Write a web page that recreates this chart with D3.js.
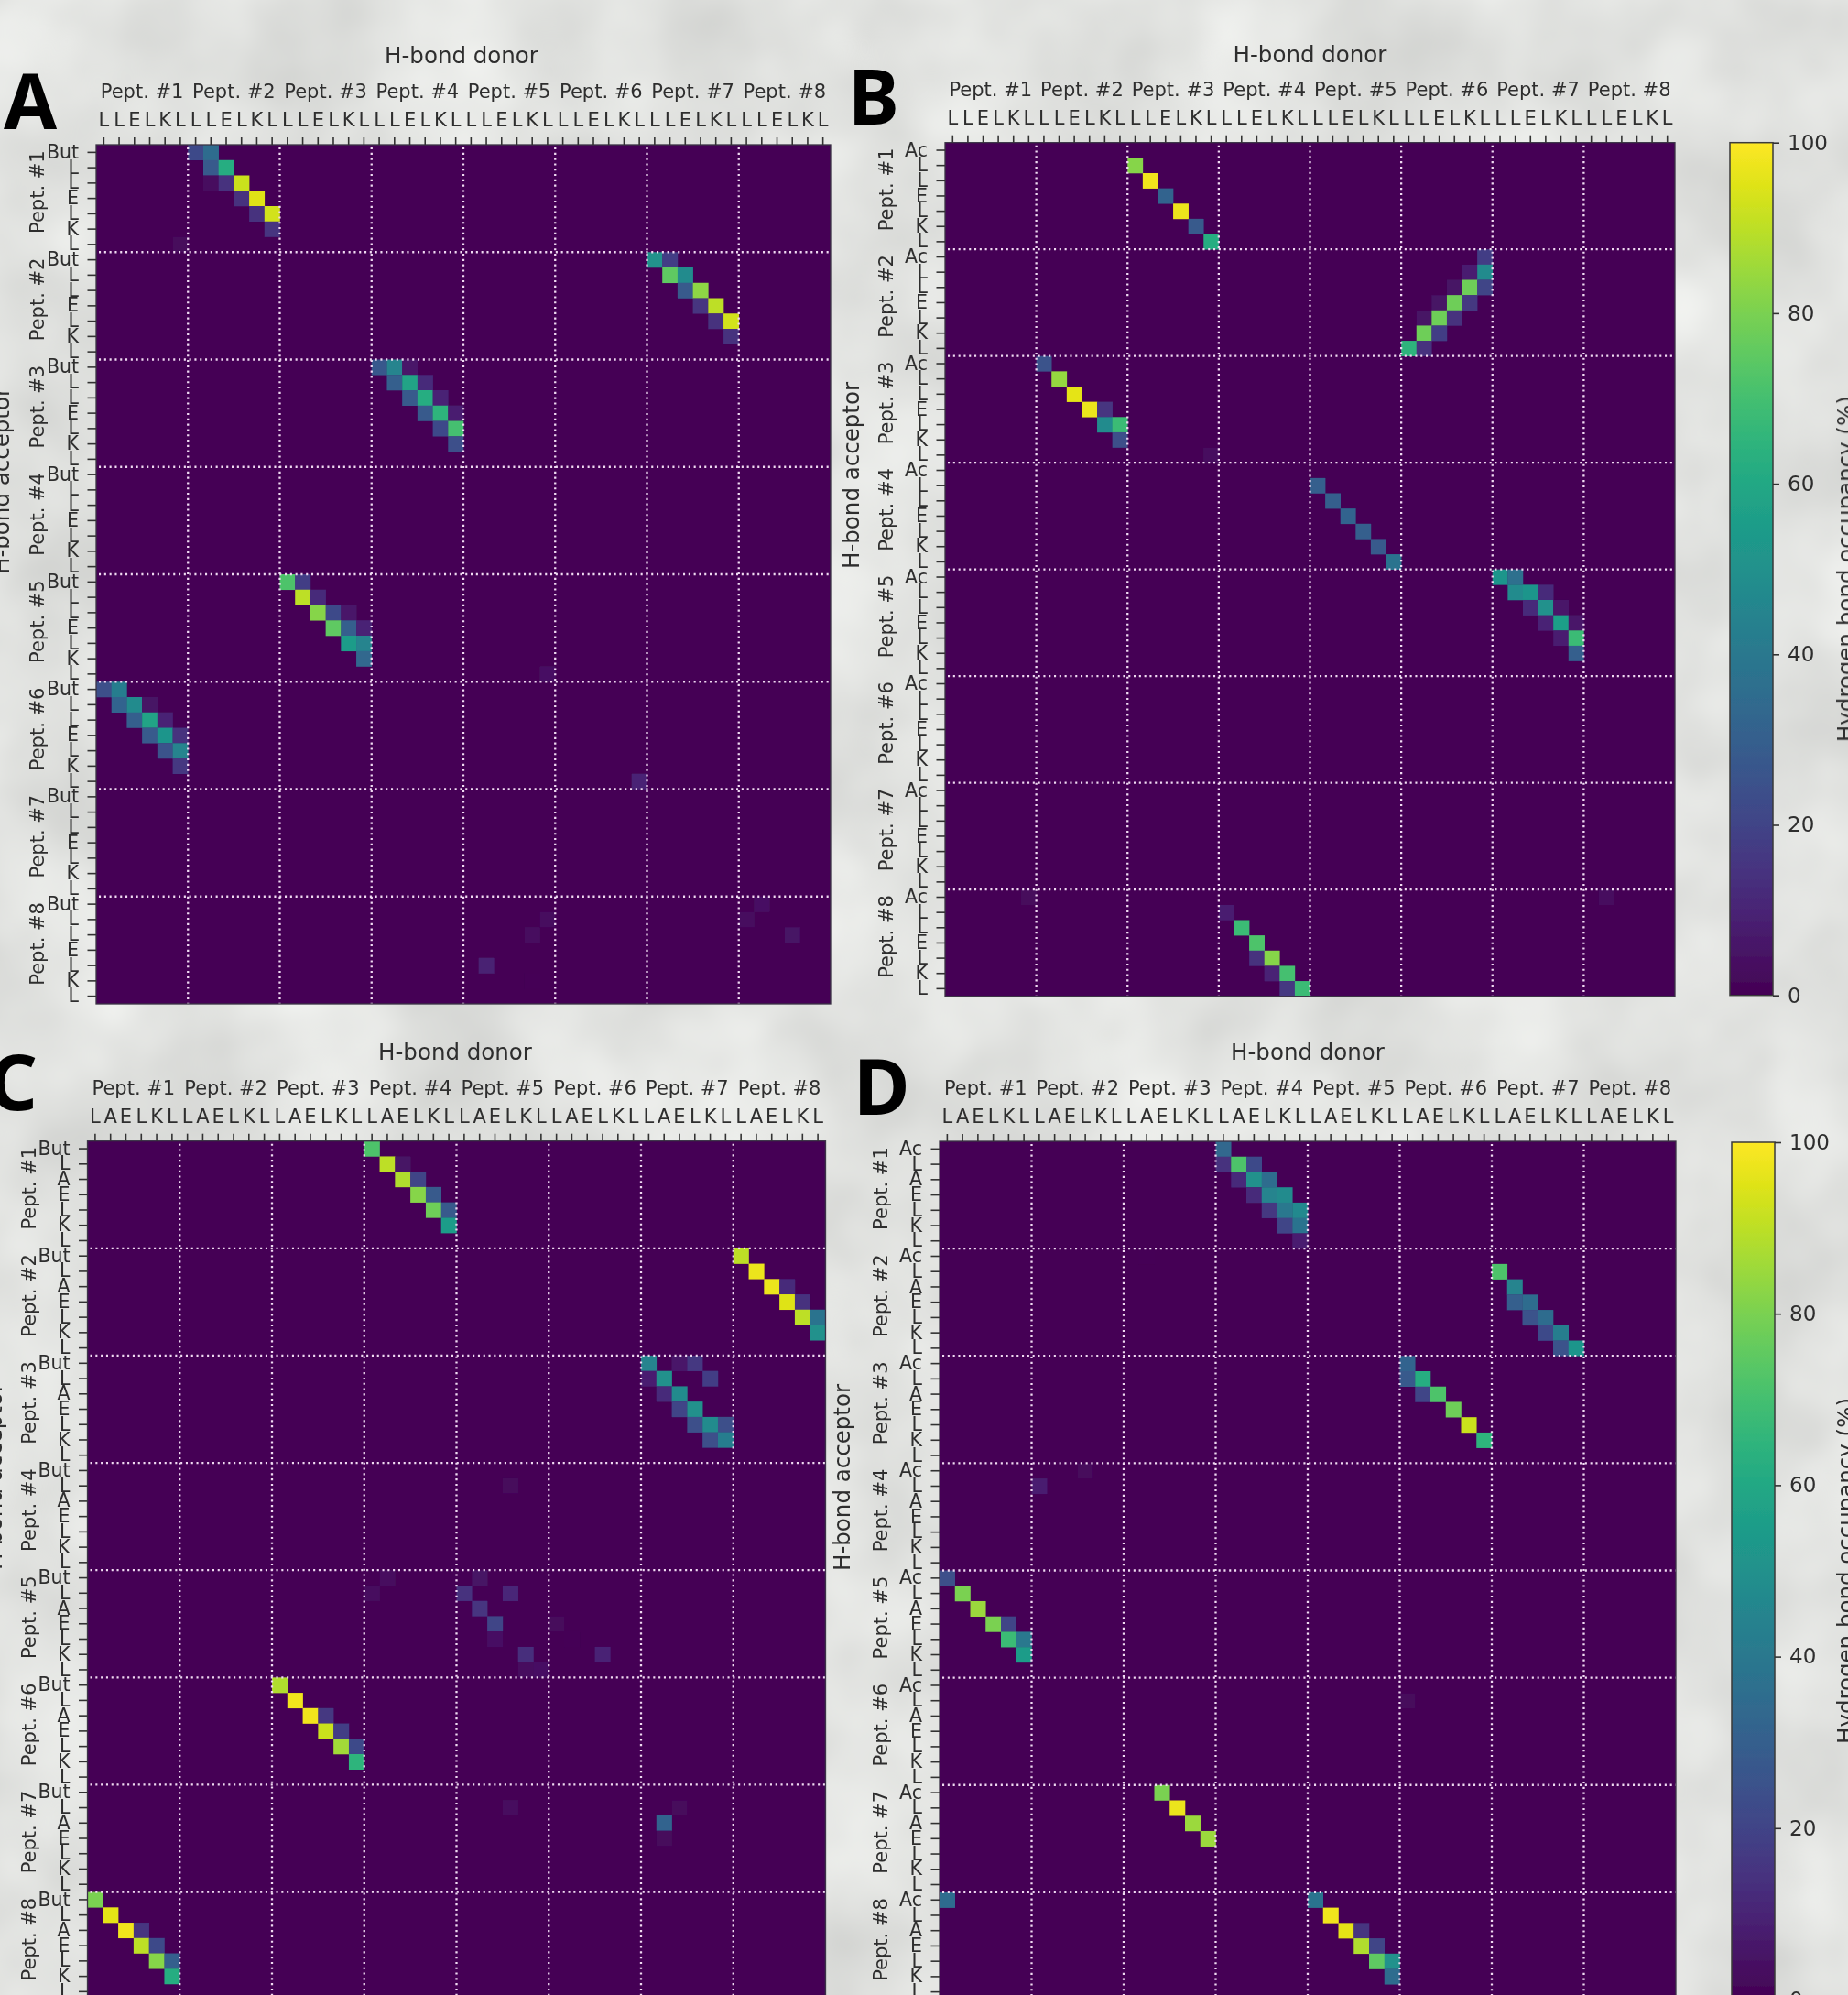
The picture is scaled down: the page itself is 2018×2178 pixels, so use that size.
<!DOCTYPE html>
<html>
<head>
<meta charset="utf-8">
<script src="https://cdn.jsdelivr.net/npm/d3@7"></script>
<style>
  html, body { margin: 0; padding: 0; background: #e4e5e3; overflow: hidden; }
  svg { display: block; }
  text { font-family: "DejaVu Sans", sans-serif; fill: #2e2e2e; }
</style>
</head>
<body>
<div id="chart"></div>
<script>
// Peptide labels and residue sequences on the two axes
const peptides = ["Pept. #1", "Pept. #2", "Pept. #3", "Pept. #4", "Pept. #5", "Pept. #6", "Pept. #7", "Pept. #8"];
const donorSeqLLE = ["L", "L", "E", "L", "K", "L"];
const donorSeqLAE = ["L", "A", "E", "L", "K", "L"];
const acceptorSeqA = ["But", "L", "L", "E", "L", "K", "L"];
const acceptorSeqB = ["Ac", "L", "L", "E", "L", "K", "L"];
const acceptorSeqC = ["But", "L", "A", "E", "L", "K", "L"];
const acceptorSeqD = ["Ac", "L", "A", "E", "L", "K", "L"];
const colorbarTicks = [0, 20, 40, 60, 80, 100];

// Non-zero cells: [acceptor row, donor column, occupancy %]
const cellsA = [
  [0,6,22],[0,7,35],[1,7,28],[1,8,62],[2,7,3],[2,8,14],[2,9,92],[3,9,14],[3,10,95],[4,10,14],[4,11,93],[5,11,15],[6,5,2],
  [7,36,50],[7,37,18],[8,37,75],[8,38,48],[9,38,28],[9,39,83],[10,39,15],[10,40,90],[11,40,14],[11,41,93],[12,41,14],
  [14,18,27],[14,19,45],[14,20,6],[15,19,30],[15,20,58],[15,21,12],[16,20,28],[16,21,62],[16,22,10],[17,21,28],[17,22,65],[17,23,8],[18,22,22],[18,23,70],[19,23,24],
  [28,12,72],[28,13,18],[29,13,90],[29,14,12],[30,14,82],[30,15,22],[30,16,6],[31,15,75],[31,16,30],[31,17,10],[32,16,55],[32,17,45],[33,17,33],[34,29,4],
  [35,0,24],[35,1,42],[36,1,32],[36,2,48],[36,3,5],[37,2,30],[37,3,58],[37,4,10],[38,3,28],[38,4,52],[38,5,14],[39,4,25],[39,5,45],[40,5,16],[41,35,10],
  [49,43,4],[50,29,3],[50,42,3],[51,28,3],[51,45,5],[53,25,9],[54,28,1]
];
const cellsB = [
  [1,12,82],[2,13,98],[3,14,32],[4,15,97],[5,16,28],[6,17,62],
  [7,35,18],[8,34,8],[8,35,48],[9,33,5],[9,34,78],[9,35,20],[10,32,5],[10,33,78],[10,34,16],[11,31,5],[11,32,78],[11,33,14],[12,31,78],[12,32,18],[13,30,65],[13,31,14],
  [14,6,25],[15,7,84],[16,8,96],[17,9,97],[17,10,15],[18,10,48],[18,11,68],[19,11,24],[20,17,3],
  [22,24,30],[23,25,30],[24,26,32],[25,27,30],[26,28,28],[27,29,38],
  [28,36,52],[28,37,36],[29,37,48],[29,38,52],[29,39,12],[30,38,12],[30,39,50],[30,40,6],[31,39,10],[31,40,56],[31,41,6],[32,40,8],[32,41,68],[33,41,30],
  [49,5,2],[49,43,3],[50,18,8],[51,19,68],[52,20,72],[53,20,14],[53,21,82],[54,21,10],[54,22,70],[55,22,16],[55,23,68]
];
const cellsC = [
  [0,18,72],[1,19,90],[1,20,5],[2,20,88],[2,21,20],[3,21,82],[3,22,28],[4,22,78],[4,23,28],[5,23,55],
  [7,42,90],[8,43,97],[9,44,97],[9,45,12],[10,45,95],[10,46,14],[11,46,90],[11,47,38],[12,47,50],
  [14,36,45],[14,38,6],[14,39,16],[15,36,8],[15,37,50],[15,40,18],[16,37,12],[16,38,48],[17,38,20],[17,39,50],[18,39,24],[18,40,48],[18,41,24],[19,40,24],[19,41,42],
  [22,27,2],[28,19,3],[28,25,5],[29,18,3],[29,24,14],[29,27,11],[30,25,15],[31,26,20],[31,30,2],[32,26,4],[32,31,1],[33,28,13],[33,33,10],[34,28,3],[34,29,4],
  [35,12,88],[36,13,98],[37,14,98],[37,15,16],[38,15,92],[38,16,18],[39,16,86],[39,17,22],[40,17,65],
  [43,27,3],[43,38,2],[44,37,32],[45,37,2],
  [49,0,80],[50,1,96],[51,2,98],[51,3,15],[52,3,90],[52,4,22],[53,4,82],[53,5,30],[54,5,62]
];
const cellsD = [
  [0,18,33],[1,18,14],[1,19,72],[1,20,22],[2,19,12],[2,20,50],[2,21,35],[3,20,12],[3,21,45],[3,22,48],[4,21,16],[4,22,40],[4,23,47],[5,22,20],[5,23,38],[6,23,8],
  [7,13,1],[8,36,72],[9,37,45],[10,37,30],[10,38,35],[11,38,25],[11,39,35],[12,39,22],[12,40,42],[13,40,25],[13,41,52],
  [14,30,32],[15,30,28],[15,31,62],[16,31,20],[16,32,72],[17,33,78],[18,34,92],[19,35,65],
  [21,9,2],[22,6,8],[28,0,24],[29,1,80],[30,2,85],[31,3,80],[31,4,20],[32,4,68],[32,5,40],[33,5,55],
  [36,30,2],[42,14,80],[43,15,97],[44,16,85],[45,17,85],
  [49,0,35],[49,24,38],[50,25,98],[51,26,96],[51,27,15],[52,27,88],[52,28,20],[53,28,75],[53,29,50],[54,29,35]
];

const viridis = d3.scaleSequential(d3.interpolateViridis).domain([0, 100]);

const svg = d3.select("#chart").append("svg")
  .attr("width", 2018).attr("height", 2178);

// Mottled grey paper behind the figure, plus the soft look of the scan
const defs = svg.append("defs");
const paper = defs.append("filter").attr("id", "paper")
  .attr("x", 0).attr("y", 0).attr("width", "100%").attr("height", "100%")
  .attr("color-interpolation-filters", "sRGB");
paper.append("feTurbulence").attr("type", "fractalNoise")
  .attr("baseFrequency", 0.007).attr("numOctaves", 3).attr("seed", 4);
paper.append("feColorMatrix").attr("type", "matrix")
  .attr("values", "0.16 0 0 0 0.805  0.16 0 0 0 0.81  0.16 0 0 0 0.8  0 0 0 0 1");
defs.append("filter").attr("id", "soft")
  .attr("x", 0).attr("y", 0).attr("width", "100%").attr("height", "100%")
  .attr("filterUnits", "userSpaceOnUse")
  .append("feGaussianBlur").attr("stdDeviation", 0.75);

svg.append("rect").attr("width", 2018).attr("height", 2178).attr("filter", "url(#paper)");
const root = svg.append("g").attr("filter", "url(#soft)");

function drawPanel(p) {
  const g = root.append("g").attr("transform", `translate(${p.left},${p.top})`);
  const rowsPerPept = p.acceptorSeq.length;
  const colsPerPept = p.donorSeq.length;
  const nRows = rowsPerPept * peptides.length;
  const nCols = colsPerPept * peptides.length;

  const x = d3.scaleBand().domain(d3.range(nCols)).range([0, p.width]);
  const y = d3.scaleBand().domain(d3.range(nRows)).range([0, p.height]);
  const xPept = d3.scaleBand().domain(peptides).range([0, p.width]);
  const yPept = d3.scaleBand().domain(peptides).range([0, p.height]);

  // Matrix background (value 0) and the non-zero cells
  g.append("rect").attr("width", p.width).attr("height", p.height).attr("fill", viridis(0));
  g.selectAll("rect.cell").data(p.cells).join("rect")
    .attr("class", "cell")
    .attr("x", d => x(d[1]))
    .attr("y", d => y(d[0]))
    .attr("width", x.bandwidth() + 0.3)
    .attr("height", y.bandwidth() + 0.3)
    .attr("fill", d => viridis(d[2]));

  // Dotted separators between peptides
  const dotted = sel => sel.attr("stroke", "#f0daf2").attr("stroke-width", 2.3).attr("stroke-dasharray", "2.1 3.7");
  g.selectAll("line.vsep").data(d3.range(colsPerPept, nCols, colsPerPept)).join("line")
    .attr("class", "vsep").call(dotted)
    .attr("x1", d => x(d)).attr("x2", d => x(d))
    .attr("y1", 3).attr("y2", p.height);
  g.selectAll("line.hsep").data(d3.range(rowsPerPept, nRows, rowsPerPept)).join("line")
    .attr("class", "hsep").call(dotted)
    .attr("x1", 3).attr("x2", p.width)
    .attr("y1", d => y(d)).attr("y2", d => y(d));

  g.append("rect").attr("width", p.width).attr("height", p.height)
    .attr("fill", "none").attr("stroke", "#3b3346").attr("stroke-width", 1.3);

  // Residue axes
  const xAxis = g.append("g").call(d3.axisTop(x)
    .tickSize(8).tickPadding(12).tickFormat(i => p.donorSeq[i % colsPerPept]));
  xAxis.select(".domain").remove();
  xAxis.selectAll("line").attr("stroke", "#333").attr("stroke-width", 1.6);
  xAxis.selectAll("text").attr("font-size", 21).attr("font-family", "DejaVu Sans");

  const yAxis = g.append("g").call(d3.axisLeft(y)
    .tickSize(9.5).tickPadding(9.5).tickFormat(i => p.acceptorSeq[i % rowsPerPept]));
  yAxis.select(".domain").remove();
  yAxis.selectAll("line").attr("stroke", "#333").attr("stroke-width", 1.6);
  yAxis.selectAll("text").attr("font-size", 20.5).attr("font-family", "DejaVu Sans");

  // Peptide axes
  const xPeptAxis = g.append("g").call(d3.axisTop(xPept).tickSize(0).tickPadding(51));
  xPeptAxis.select(".domain").remove();
  xPeptAxis.selectAll("text").attr("font-size", 21).attr("font-family", "DejaVu Sans");

  g.selectAll("text.ypept").data(peptides).join("text")
    .attr("class", "ypept")
    .attr("text-anchor", "middle")
    .attr("font-size", 21)
    .attr("transform", d => `translate(-57,${yPept(d) + yPept.bandwidth() / 2 - 7}) rotate(-90)`)
    .text(d => d);

  // Titles sit in absolute page coordinates
  root.append("text").attr("x", p.donorX).attr("y", p.donorY)
    .attr("text-anchor", "middle").attr("font-size", 24.5).text("H-bond donor");
  root.append("text")
    .attr("transform", `translate(${p.acceptorX},${p.acceptorY}) rotate(-90)`)
    .attr("text-anchor", "middle").attr("font-size", 24.5).text("H-bond acceptor");
  root.append("text").attr("x", p.letterX).attr("y", p.letterY)
    .style("font-family", "'Noto Sans', sans-serif").style("fill", "#000")
    .attr("font-weight", 700).attr("font-size", 84).text(p.letter);
}

function drawColorbar(c) {
  const g = root.append("g").attr("transform", `translate(${c.left},${c.top})`);
  const scale = d3.scaleLinear().domain([0, 100]).range([c.height, 0]);
  const gradId = `bar${c.left}`;
  const grad = defs.append("linearGradient").attr("id", gradId)
    .attr("x1", 0).attr("x2", 0).attr("y1", 1).attr("y2", 0);
  d3.range(0, 101, 5).forEach(v => {
    grad.append("stop").attr("offset", `${v}%`).attr("stop-color", viridis(v));
  });
  g.append("rect").attr("width", c.width).attr("height", c.height)
    .attr("fill", `url(#${gradId})`).attr("stroke", "#3a3a3a").attr("stroke-width", 1.5);
  const axis = g.append("g").attr("transform", `translate(${c.width},0)`)
    .call(d3.axisRight(scale).tickValues(colorbarTicks).tickSize(7).tickPadding(9));
  axis.select(".domain").remove();
  axis.selectAll("line").attr("stroke", "#333").attr("stroke-width", 1.6);
  axis.selectAll("text").attr("font-size", 23).attr("font-family", "DejaVu Sans");
  root.append("text")
    .attr("transform", `translate(2024,${c.top + c.height / 2}) rotate(-90)`)
    .attr("text-anchor", "middle").attr("font-size", 24.5)
    .text("Hydrogen bond occupancy (%)");
}

[
  { letter: "A", cells: cellsA, donorSeq: donorSeqLLE, acceptorSeq: acceptorSeqA,
    left: 105, top: 158, width: 802, height: 938,
    donorX: 504, donorY: 69, acceptorX: 10, acceptorY: 525, letterX: 4, letterY: 141 },
  { letter: "B", cells: cellsB, donorSeq: donorSeqLLE, acceptorSeq: acceptorSeqB,
    left: 1032, top: 155.7, width: 797, height: 932,
    donorX: 1430.5, donorY: 68, acceptorX: 938, acceptorY: 519, letterX: 926, letterY: 136 },
  { letter: "C", cells: cellsC, donorSeq: donorSeqLAE, acceptorSeq: acceptorSeqC,
    left: 95.5, top: 1245.7, width: 806, height: 937,
    donorX: 497, donorY: 1157, acceptorX: 2, acceptorY: 1612, letterX: -13, letterY: 1212 },
  { letter: "D", cells: cellsD, donorSeq: donorSeqLAE, acceptorSeq: acceptorSeqD,
    left: 1026, top: 1246, width: 804, height: 937,
    donorX: 1428, donorY: 1157, acceptorX: 928, acceptorY: 1613, letterX: 932, letterY: 1217 }
].forEach(drawPanel);

drawColorbar({ left: 1889, top: 155.7, width: 47, height: 931 });
drawColorbar({ left: 1891, top: 1247, width: 47, height: 936 });
</script>
</body>
</html>
